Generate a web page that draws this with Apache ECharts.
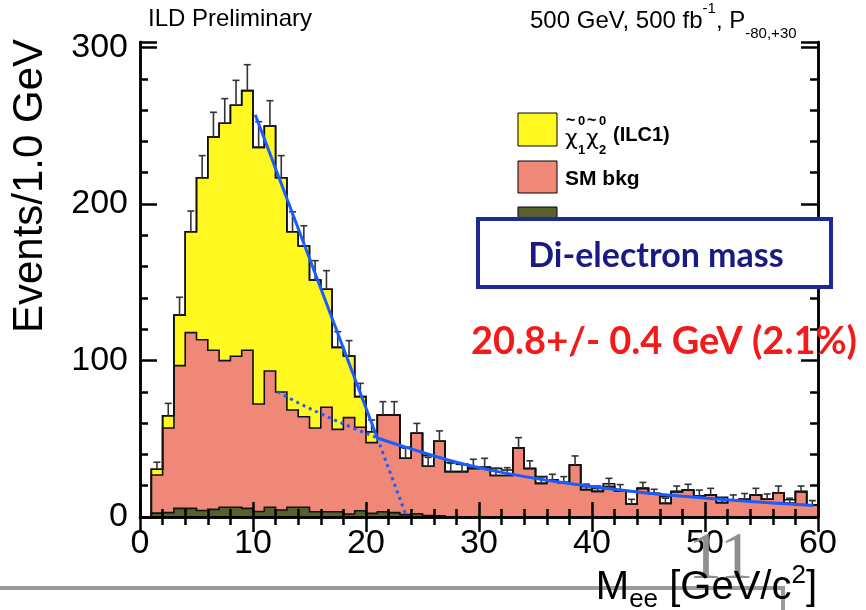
<!DOCTYPE html>
<html>
<head>
<meta charset="utf-8">
<script src="https://cdn.jsdelivr.net/npm/echarts@6/dist/echarts.min.js"></script>
<style>
  html, body { margin: 0; padding: 0; background: #fff; }
  #chart { width: 866px; height: 610px; }
</style>
</head>
<body>
<div id="chart"></div>
<script>
// Di-electron invariant mass, 1 GeV bins on [0, 60]; bin i covers [i, i+1].
const susyBkg = [
  0, 2.5, 2.8, 5.5, 5.5, 4.2, 4.9, 6.2, 6.2, 5.5,
  3.5, 6.2, 4.5, 6.2, 6.2, 3.4, 3.4, 3.4, 1.9, 4.0,
  2.3, 3.4, 2.8, 1.5, 2.1, 1.0, 0.8, 0, 0, 0,
  0, 0, 0, 0, 0, 0, 0, 0, 0, 0,
  0, 0, 0, 0, 0, 0, 0, 0, 0, 0,
  0, 0, 0, 0, 0, 0, 0, 0, 0, 0
];
const smBkg = [
  0, 24.3, 54.1, 91.2, 112.3, 109.1, 101.6, 93.7, 96.5, 101.0,
  68.7, 87.1, 75.4, 62.2, 57.9, 53.5, 66.7, 52.6, 61.6, 53.3,
  45.2, 61.8, 62.4, 36.0, 51.4, 31.4, 47.6, 29.0, 29.0, 31.1,
  31.8, 26.5, 26.5, 44.1, 31.0, 21.5, 23.6, 22.0, 33.2, 17.5,
  16.4, 19.4, 16.8, 8.3, 18.3, 15.0, 8.7, 16.2, 17.2, 13.4,
  14.1, 9.2, 10.9, 11.3, 14.1, 11.3, 15.5, 8.7, 16.2, 7.7
];
const signal = [
  0, 3.7, 7.8, 32.3, 64.5, 103.5, 136.3, 151.7, 160.4, 165.9,
  164.0, 156.5, 136.9, 113.9, 109.1, 94.5, 75.4, 52.4, 39.4, 19.6,
  7.0, 0, 0, 0, 0, 0, 0, 0, 0, 0,
  0, 0, 0, 0, 0, 0, 0, 0, 0, 0,
  0, 0, 0, 0, 0, 0, 0, 0, 0, 0,
  0, 0, 0, 0, 0, 0, 0, 0, 0, 0
];
// unfilled layer drawn on top of the stack in some tail bins
const openLayer = [
  0, 0, 0, 0, 0, 0, 0, 0, 0, 0,
  0, 0, 0, 0, 0, 0, 0, 0, 0, 0,
  0, 0, 0, 7.0, 0, 6.8, 0, 5.8, 4.8, 0,
  0, 4.6, 3.5, 0, 0, 4.3, 0, 0, 0, 1.9,
  1.9, 1.8, 0, 8.1, 0, 0, 4.3, 0, 0, 0,
  0, 3.4, 0, 0, 0, 0, 0, 2.3, 0, 0
];
// upper end of the statistical error bar of each bin
const errorTop = [
  0, 35, 72.6, 140.4, 195.5, 230.9, 258.6, 267.3, 279, 289,
  252.6, 266, 230.9, 195, 186.1, 163.8, 157.4, 118.4, 112.7, 85.4,
  62, 73.7, 73.7, 44, 59.8, 38.1, 55, 34.3, 33.5, 36.9,
  37.5, 31.1, 31.5, 50.7, 35.9, 25.5, 27.3, 25.8, 39, 21,
  19.8, 24.7, 20.7, 11.3, 22.1, 17.7, 12, 19.8, 20.9, 17.2,
  18.3, 12, 14.1, 15, 18.3, 14.7, 19.8, 12, 19.8, 10.5
];
// fitted curves (GeV, events)
const edgeFit = [[10.2, 257], [21.0, 50.5]];
const edgeFitExtension = [[21.0, 50.5], [23.6, 0]];
const bkgFitInner = [[12.2, 80], [14, 73], [16, 66], [18, 59.5], [21.0, 50.5]];
const bkgFit = [[21.0, 50.5], [24, 43.5], [28, 35], [32, 28.5], [36, 23.5], [40, 19.5],
                [44, 16], [48, 13.2], [52, 11], [56, 9], [59.6, 7.3]];
const xTicks = [0, 10, 20, 30, 40, 50, 60];
const yMajorStep = 100;

const HELV = 'Liberation Sans, Arial, sans-serif';
const layers = [
  { name: 'SUSY bkg', values: susyBkg, color: '#58612e' },
  { name: 'SM bkg', values: smBkg, color: '#f08878' },
  { name: 'signal', values: signal, color: '#fff820' },
  { name: 'open', values: openLayer, color: '#ffffff' }
];

// cumulative lower/upper edge of every layer in the stack
const nBins = susyBkg.length;
let running = new Array(nBins).fill(0);
layers.forEach(l => {
  l.lower = running.slice();
  l.upper = running.map((v, i) => v + l.values[i]);
  running = l.upper;
});
const stackTop = layers[2].upper;

function upperPath(api, arr) {
  const pts = [];
  for (let i = 0; i < arr.length; i++) {
    pts.push(api.coord([i, arr[i]]), api.coord([i + 1, arr[i]]));
  }
  return pts;
}

const series = [];
layers.forEach(l => {
  // filled band between the layer's lower and upper step edges
  series.push({
    type: 'custom', z: 2, silent: true, data: [[0, 0]],
    renderItem(params, api) {
      const top = upperPath(api, l.upper);
      const bottom = upperPath(api, l.lower).reverse();
      return { type: 'polygon', shape: { points: top.concat(bottom) }, style: { fill: l.color } };
    }
  });
});
layers.forEach(l => {
  // black step outline of the layer
  series.push({
    type: 'custom', z: 3, silent: true, data: [[0, 0]],
    renderItem(params, api) {
      const pts = [api.coord([0, 0])].concat(upperPath(api, l.upper));
      return { type: 'polyline', shape: { points: pts }, style: { stroke: '#111', lineWidth: 1.6, fill: null } };
    }
  });
});

// error bars start at the top of the filled stack
const errorData = [];
for (let i = 0; i < nBins; i++) {
  if (errorTop[i] > stackTop[i]) errorData.push([i + 0.5, stackTop[i], errorTop[i]]);
}
series.push({
  type: 'custom', z: 4, silent: true, data: errorData,
  renderItem(params, api) {
    const p0 = api.coord([api.value(0), api.value(1)]);
    const p1 = api.coord([api.value(0), api.value(2)]);
    const st = { stroke: '#333', lineWidth: 1.6 };
    return { type: 'group', children: [
      { type: 'line', shape: { x1: p0[0], y1: p0[1], x2: p1[0], y2: p1[1] }, style: st },
      { type: 'line', shape: { x1: p1[0] - 3.5, y1: p1[1], x2: p1[0] + 3.5, y2: p1[1] }, style: st }
    ]};
  }
});

const fitColor = '#1a5cff';
series.push({ type: 'line', data: edgeFit, showSymbol: false, z: 5, silent: true,
  lineStyle: { color: fitColor, width: 3 } });
series.push({ type: 'line', data: bkgFit, smooth: 0.4, showSymbol: false, z: 5, silent: true,
  lineStyle: { color: fitColor, width: 3 } });
series.push({ type: 'line', data: edgeFitExtension, showSymbol: false, z: 5, silent: true,
  lineStyle: { color: fitColor, width: 3, type: [3, 4] } });
series.push({ type: 'line', data: bkgFitInner, smooth: 0.4, showSymbol: false, z: 5, silent: true,
  lineStyle: { color: fitColor, width: 3, type: [3, 4] } });

const yMax = 303.5;
const axisLineStyle = { color: '#000', width: 2.5 };
function yAxisDef(position, interval, tickLen, labels) {
  return {
    type: 'value', position, min: 0, max: yMax, interval, z: 6,
    axisLine: { show: true, lineStyle: axisLineStyle },
    axisTick: { show: true, inside: true, length: tickLen, lineStyle: { width: 2.5, color: '#000' } },
    axisLabel: labels ? {
      show: true, fontSize: 34, fontFamily: HELV, color: '#000', margin: 12,
      formatter: v => (v % yMajorStep === 0 ? String(v) : '')
    } : { show: false },
    splitLine: { show: false }
  };
}
function xAxisDef(position, labels) {
  return {
    type: 'value', position, min: xTicks[0], max: xTicks[xTicks.length - 1],
    interval: xTicks[1] - xTicks[0], z: 6,
    axisLine: { show: true, lineStyle: axisLineStyle },
    axisTick: { show: true, inside: true, length: 15, lineStyle: { width: 2.5, color: '#000' } },
    minorTick: { show: true, splitNumber: 5, length: 8, lineStyle: { width: 2.5, color: '#000' } },
    axisLabel: labels ? { show: true, fontSize: 34, fontFamily: HELV, color: '#000', margin: 10 } : { show: false },
    splitLine: { show: false }
  };
}

// neutralino symbol with stacked super- and subscript
const chi = (x, sup, sub) => [
  { type: 'text', x: x, y: 139, style: { text: 'χ', font: '22px DejaVu Sans', fill: '#000', verticalAlign: 'middle' } },
  { type: 'text', x: x + 1, y: 121, style: { text: '~', font: 'bold 16px ' + HELV, fill: '#000', verticalAlign: 'middle' } },
  { type: 'text', x: x + 13, y: 121, style: { text: sup, font: 'bold 13px ' + HELV, fill: '#000', verticalAlign: 'middle' } },
  { type: 'text', x: x + 13, y: 150, style: { text: sub, font: 'bold 13px ' + HELV, fill: '#000', verticalAlign: 'middle' } }
];

const graphic = [
  { type: 'text', x: 148, y: 19, z: 100, style: { text: 'ILD Preliminary', font: '24px ' + HELV, fill: '#000', verticalAlign: 'middle' } },
  { type: 'text', x: 530, y: 21, z: 100, style: {
      text: '{m|500 GeV, 500 fb}{sup|-1}{m|, P}{sub|-80,+30}',
      verticalAlign: 'middle',
      rich: {
        m: { font: '24px ' + HELV, fill: '#000', lineHeight: 40, verticalAlign: 'middle' },
        sup: { font: '15px ' + HELV, fill: '#000', lineHeight: 15, verticalAlign: 'top' },
        sub: { font: '15px ' + HELV, fill: '#000', lineHeight: 15, verticalAlign: 'bottom' }
      } } },
  // legend
  { type: 'rect', z: 100, shape: { x: 518, y: 113, width: 39, height: 33 }, style: { fill: '#fff820', stroke: '#000', lineWidth: 1 } },
  { type: 'rect', z: 100, shape: { x: 518, y: 161, width: 39, height: 32 }, style: { fill: '#f08878', stroke: '#000', lineWidth: 1 } },
  { type: 'rect', z: 100, shape: { x: 518, y: 207, width: 39, height: 32 }, style: { fill: '#58612e', stroke: '#000', lineWidth: 1 } },
  { type: 'group', z: 100, children: chi(565, '0', '1').concat(chi(586, '0', '2')) },
  { type: 'text', z: 100, x: 613, y: 135, style: { text: '(ILC1)', font: 'bold 20px ' + HELV, fill: '#000', verticalAlign: 'middle' } },
  { type: 'text', z: 100, x: 565, y: 179, style: { text: 'SM bkg', font: 'bold 21px ' + HELV, fill: '#000', verticalAlign: 'middle' } },
  { type: 'text', z: 100, x: 565, y: 226, style: { text: 'SUSY bkg', font: 'bold 21px ' + HELV, fill: '#000', verticalAlign: 'middle' } },
  // annotation box
  { type: 'rect', z: 101, shape: { x: 478, y: 219, width: 353, height: 68 }, style: { fill: '#fff', stroke: '#1b2a94', lineWidth: 4 } },
  { type: 'text', z: 102, x: 656, y: 256, style: { text: 'Di-electron mass', font: 'bold 34px Lato, sans-serif', fill: '#1a1a82', align: 'center', verticalAlign: 'middle' } },
  { type: 'text', z: 102, x: 471, y: 342, style: { text: '20.8+/- 0.4 GeV (2.1%)', font: 'bold 38px Lato, sans-serif', fill: '#f41a1a', verticalAlign: 'middle' } },
  // axis titles
  { type: 'text', z: 100, x: 30, y: 186, rotation: Math.PI / 2, style: { text: 'Events/1.0 GeV', font: '42px ' + HELV, fill: '#000', align: 'center', verticalAlign: 'middle' } },
  { type: 'text', z: 100, x: 817, y: 588, style: {
      text: '{m|M}{s|ee}{m| [GeV/c}{p|2}{m|]}', align: 'right', verticalAlign: 'middle',
      rich: {
        m: { font: '40px ' + HELV, fill: '#000', lineHeight: 50, verticalAlign: 'middle' },
        s: { font: '26px ' + HELV, fill: '#000', lineHeight: 24, verticalAlign: 'bottom' },
        p: { font: '26px ' + HELV, fill: '#000', lineHeight: 24, verticalAlign: 'top' }
      } } },
  // page furniture
  { type: 'text', z: 99, x: 688, y: 594, style: { text: '11', font: '68px Liberation Serif, serif', fill: '#8f8f8f', verticalAlign: 'bottom' } },
  { type: 'polyline', z: 99, shape: { points: [[0, 588], [783, 588], [783, 612]] }, style: { stroke: '#9a9a9a', lineWidth: 4, fill: null } }
];

const chart = echarts.init(document.getElementById('chart'), null, { renderer: 'canvas' });
chart.setOption({
  animation: false,
  backgroundColor: '#fff',
  grid: { left: 140, right: 48, top: 42, bottom: 93, containLabel: false },
  xAxis: [xAxisDef('bottom', true), xAxisDef('top', false)],
  yAxis: [
    yAxisDef('left', yMajorStep, 17, true),
    yAxisDef('left', yMajorStep / 5, 8, false),
    yAxisDef('right', yMajorStep, 17, false),
    yAxisDef('right', yMajorStep / 5, 8, false)
  ],
  series,
  graphic
});
</script>
</body>
</html>
